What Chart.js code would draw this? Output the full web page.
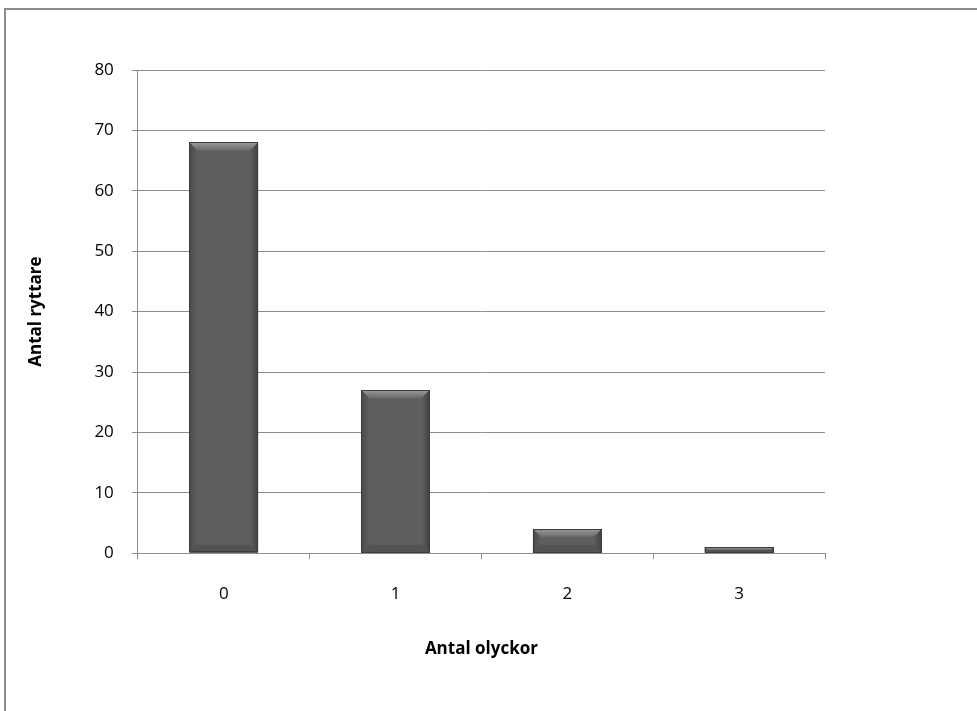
<!DOCTYPE html>
<html><head><meta charset="utf-8">
<script src="https://cdn.jsdelivr.net/npm/chart.js@4"></script>
<style>
html,body{margin:0;padding:0;background:#fff;overflow:hidden}
#wrap{position:relative;width:977px;height:711px}
#frame{position:absolute;left:4px;top:8px;width:990px;height:720px;border-top:2px solid #8c8c8c;border-left:2px solid #8c8c8c;box-sizing:border-box}
canvas{position:absolute;left:0;top:0}
</style></head><body>
<div id="wrap"><div id="frame"></div><canvas id="c" width="977" height="711"></canvas></div>
<script>
const categories = ['0','1','2','3'];
const riders = [68, 27, 4, 1];
const yTicks = [0,10,20,30,40,50,60,70,80];
const xTitle = 'Antal olyckor';
const yTitle = 'Antal ryttare';

const bevel = {
  id:'bevel',
  afterDatasetsDraw(chart){
    const ctx = chart.ctx;
    chart.getDatasetMeta(0).data.forEach(b=>{
      const l=b.x-b.width/2, r=b.x+b.width/2, t=b.y, btm=b.base;
      const h=btm-t, e=Math.min(8, h/2);
      ctx.save();
      let g=ctx.createLinearGradient(0,t,0,t+e);
      g.addColorStop(0,'#9a9a9a'); g.addColorStop(1,'#6a6a6a');
      ctx.fillStyle=g;
      ctx.beginPath();ctx.moveTo(l,t);ctx.lineTo(r,t);ctx.lineTo(r-e,t+e);ctx.lineTo(l+e,t+e);ctx.closePath();ctx.fill();
      g=ctx.createLinearGradient(l,0,l+e,0);
      g.addColorStop(0,'#4a4a4a'); g.addColorStop(1,'#5e5e5e');
      ctx.fillStyle=g;
      ctx.beginPath();ctx.moveTo(l,t);ctx.lineTo(l+e,t+e);ctx.lineTo(l+e,btm-e);ctx.lineTo(l,btm);ctx.closePath();ctx.fill();
      g=ctx.createLinearGradient(r-e,0,r,0);
      g.addColorStop(0,'#5e5e5e'); g.addColorStop(1,'#404040');
      ctx.fillStyle=g;
      ctx.beginPath();ctx.moveTo(r,t);ctx.lineTo(r-e,t+e);ctx.lineTo(r-e,btm-e);ctx.lineTo(r,btm);ctx.closePath();ctx.fill();
      ctx.fillStyle='#525252';
      ctx.beginPath();ctx.moveTo(l,btm);ctx.lineTo(r,btm);ctx.lineTo(r-e,btm-e);ctx.lineTo(l+e,btm-e);ctx.closePath();ctx.fill();
      ctx.strokeStyle='#3c3c3c';ctx.lineWidth=1;
      ctx.strokeRect(Math.round(l)+0.5,Math.round(t)+0.5,Math.round(r-l)-1,Math.round(btm-t)-1);
      ctx.restore();
    });
  }
};

new Chart(document.getElementById('c'),{
  type:'bar',
  data:{labels:categories,datasets:[{data:riders,backgroundColor:'#5f5f5f',categoryPercentage:1,barPercentage:0.4,borderWidth:0}]},
  options:{
    responsive:false,animation:false,
    layout:{padding:{left:26,right:152,top:70,bottom:52}},
    plugins:{legend:{display:false},tooltip:{enabled:false}},
    scales:{
      x:{
        grid:{display:true,drawOnChartArea:false,offset:true,color:'#8c8c8c',tickLength:6,lineWidth:1},
        border:{color:'#8c8c8c',width:1},
        ticks:{color:'#000',font:{family:'Open Sans',size:17},padding:25},
        title:{display:true,text:xTitle,color:'#000',font:{family:'Open Sans',size:17,weight:'bold'},padding:{top:9,bottom:0}}
      },
      y:{
        min:0,max:80,
        afterBuildTicks(s){s.ticks=yTicks.map(v=>({value:v}));},
        grid:{color:'#8c8c8c',tickLength:6,lineWidth:1},
        border:{color:'#8c8c8c',width:1},
        ticks:{color:'#000',font:{family:'Open Sans',size:17},padding:18},
        title:{display:true,text:yTitle,color:'#000',font:{family:'Open Sans',size:17,weight:'bold'},padding:{top:0,bottom:30}}
      }
    }
  },
  plugins:[bevel]
});
</script></body></html>
